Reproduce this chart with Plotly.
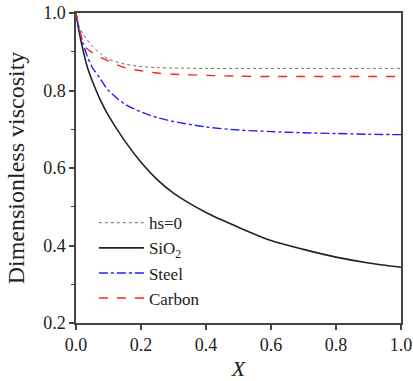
import plotly.graph_objects as go

X = [0, 0.01, 0.02, 0.035, 0.05, 0.075, 0.1, 0.15, 0.2, 0.25, 0.3, 0.4, 0.5, 0.6, 0.7, 0.8, 0.9, 1.0]
hs0 = [1.0, 0.965, 0.948, 0.93, 0.915, 0.895, 0.881, 0.868, 0.862, 0.859, 0.858, 0.857, 0.857, 0.857, 0.857, 0.857, 0.857, 0.857]
sio2 = [1.0, 0.95, 0.91, 0.86, 0.825, 0.775, 0.735, 0.67, 0.615, 0.57, 0.535, 0.485, 0.447, 0.413, 0.39, 0.37, 0.355, 0.344]
steel = [1.0, 0.955, 0.925, 0.888, 0.86, 0.83, 0.8, 0.765, 0.745, 0.73, 0.72, 0.706, 0.698, 0.694, 0.691, 0.689, 0.687, 0.686]
carbon = [1.0, 0.96, 0.93, 0.907, 0.898, 0.886, 0.876, 0.859, 0.851, 0.845, 0.842, 0.839, 0.837, 0.836, 0.836, 0.836, 0.836, 0.836]

names = ["hs=0", "SiO<sub>2</sub>", "Steel", "Carbon"]
series = [hs0, sio2, steel, carbon]
styles = [
    dict(color="#6a6a6a", width=1, dash="dot"),
    dict(color="#222222", width=1.6, dash="solid"),
    dict(color="#2020ff", width=1.4, dash="dashdot"),
    dict(color="#ff2020", width=1.4, dash="dash"),
]

fig = go.Figure()
for n, s, st in zip(names, series, styles):
    fig.add_trace(go.Scatter(x=X, y=s, mode="lines", name=n, line=dict(shape="spline", smoothing=0.8, **st)))

font = "Liberation Serif"
fig.update_layout(
    width=413, height=381,
    margin=dict(l=76, r=12, t=13, b=58, autoexpand=False),
    paper_bgcolor="white", plot_bgcolor="white",
    font=dict(family=font, size=18, color="#222"),
    showlegend=True,
    legend=dict(x=0.055, y=0.38, xanchor="left", yanchor="top",
                bgcolor="rgba(0,0,0,0)", font=dict(size=17, family=font),
                tracegroupgap=0, itemwidth=45),
    xaxis=dict(range=[0, 1], tickvals=[0, 0.2, 0.4, 0.6, 0.8, 1.0], tickformat=".1f",
               showline=True, mirror=True, linecolor="#444", linewidth=1.5,
               ticks="outside", ticklen=5, tickwidth=1.5, tickcolor="#444",
               showgrid=False, zeroline=False, automargin=False, ticklabeloverflow="allow",
               tickfont=dict(family=font, size=18),
               title=dict(text="<i>X</i>", font=dict(size=22, family=font), standoff=6)),
    yaxis=dict(range=[0.2, 1.0], tickvals=[0.2, 0.4, 0.6, 0.8, 1.0], tickformat=".1f",
               showline=True, mirror=True, linecolor="#444", linewidth=1.5,
               ticks="outside", ticklen=5, tickwidth=1.5, tickcolor="#444",
               minor=dict(dtick=0.1, ticks="outside", ticklen=3, tickwidth=1, tickcolor="#444"),
               showgrid=False, zeroline=False, automargin=False, ticklabeloverflow="allow",
               tickfont=dict(family=font, size=18),
               title=dict(text="Dimensionless viscosity", font=dict(size=24, family=font), standoff=12)),
)

fig.write_html("out.html", config={"displayModeBar": False},
               post_script="document.body.style.margin='0';")
